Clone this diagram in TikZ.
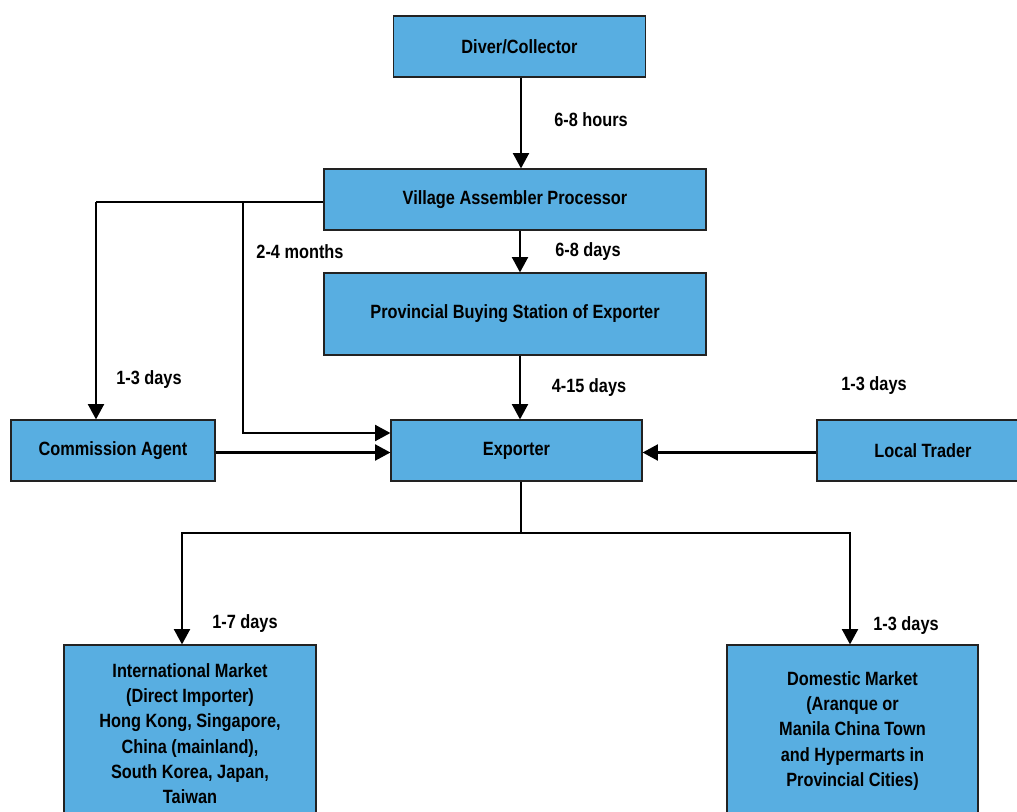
\documentclass[tikz,border=0pt]{standalone}
\usepackage{fontspec}
\setmainfont{Liberation Sans}[FakeStretch=0.85]
\usetikzlibrary{arrows.meta}
\definecolor{boxblue}{HTML}{58AEE1}
\definecolor{boxline}{HTML}{222222}
\tikzset{
  box/.style={draw=boxline, line width=0.9pt, fill=boxblue, rectangle, inner sep=0pt,
    font=\fontsize{14.4pt}{19pt}\selectfont\bfseries, align=center},
  lbl/.style={font=\fontsize{14.4pt}{19pt}\selectfont\bfseries, inner sep=0pt},
  conn/.style={line width=1.6pt, -{Triangle[length=11.5pt,width=12pt]}},
  plain/.style={line width=1.6pt}
}
\begin{document}
\begin{tikzpicture}[x=0.75pt,y=-0.75pt]
\useasboundingbox (0,0) rectangle (1017,811);
\fill[white] (0,0) rectangle (1017,811);
\clip (0,0) rectangle (1017,811);
% boxes
\node[box, minimum width=252*0.75pt, minimum height=61*0.75pt] (diver) at (519.5,46.5) {Diver/Collector};
\node[box, minimum width=382*0.75pt, minimum height=61*0.75pt] (village) at (515,199.5) {Village Assembler Processor};
\node[box, minimum width=382*0.75pt, minimum height=82*0.75pt] (prov) at (515,314) {Provincial Buying Station of Exporter};
\node[box, minimum width=204*0.75pt, minimum height=61*0.75pt] (comm) at (113,450.5) {Commission Agent};
\node[box, minimum width=251*0.75pt, minimum height=61*0.75pt] (exp) at (516.5,450.5) {Exporter};
\node[box, minimum width=212*0.75pt, minimum height=61*0.75pt] (local) at (923,450.5) {Local Trader};
\node[box, minimum width=252*0.75pt, minimum height=177*0.75pt] (intl) at (190,733.5)
  {International Market\\(Direct Importer)\\Hong Kong, Singapore,\\China (mainland),\\South Korea, Japan,\\Taiwan};
\node[box, minimum width=251*0.75pt, minimum height=172*0.75pt] (dom) at (852.5,731)
  {Domestic Market\\(Aranque or\\Manila China Town\\and Hypermarts in\\Provincial Cities)};
% coordinates
\coordinate (vl) at (96,202);
\coordinate (vb) at (243,202);
\coordinate (eb) at (521,533);
\coordinate (il) at (182,533);
\coordinate (dr) at (850,533);
% connectors
\draw[conn] (diver.south -| 521,0) -- (village.north -| 521,0);
\draw[conn] (village.south -| 520,0) -- (prov.north -| 520,0);
\draw[conn] (prov.south -| 520,0) -- (exp.north -| 520,0);
\draw[plain] (village.west |- vl) -- (vl);
\draw[conn] (vl) -- (comm.north -| vl);
\draw[conn] (vb) -- (243,433) -- (exp.west |- 0,433);
\draw[conn] (comm.east |- 0,452.5) -- (exp.west |- 0,452.5);
\draw[conn] (local.west |- 0,452.5) -- (exp.east |- 0,452.5);
\draw[plain] (exp.south -| eb) -- (eb);
\draw[conn] (eb) -- (il) -- (intl.north -| il);
\draw[conn] (eb) -- (dr) -- (dom.north -| dr);
% labels
\node[lbl] (l1) at (591,120) {6-8 hours};
\node[lbl] (l2) at (588,252) {6-8 days};
\node[lbl] (l3) at (300,252) {2-4 months};
\node[lbl] (l4) at (149,380) {1-3 days};
\node[lbl] (l5) at (589,388) {4-15 days};
\node[lbl] (l6) at (874,386) {1-3 days};
\node[lbl] (l7) at (245,624) {1-7 days};
\node[lbl] (l8) at (906,626) {1-3 days};
\end{tikzpicture}
\end{document}
